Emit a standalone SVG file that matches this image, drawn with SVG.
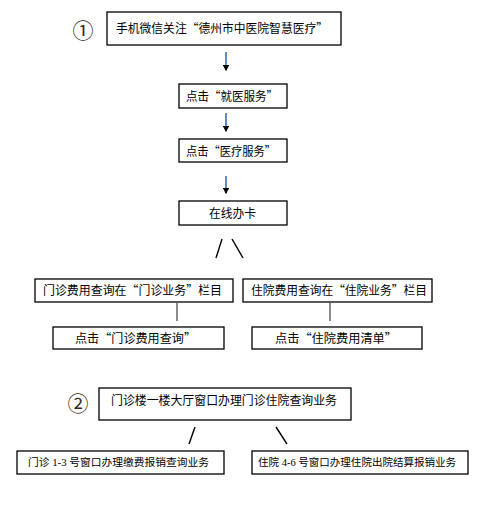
<svg xmlns="http://www.w3.org/2000/svg" width="489" height="516" viewBox="0 0 489 516">
  <defs>
    <style>
      .box { fill: #ffffff; stroke: #000000; stroke-width: 1.3; }
      .t { font-family: "Noto Sans CJK SC", "Liberation Sans", sans-serif; font-size: 12px; fill: #000000; }
      .ts { font-family: "Liberation Serif", "Noto Sans CJK SC", serif; font-size: 10.5px; fill: #000000; }
      .num { font-family: "Noto Sans CJK SC", "DejaVu Sans", sans-serif; font-size: 21px; fill: #3a2a1a; }
      .arrow { stroke: #3a6fb0; stroke-width: 1.6; fill: none; marker-end: url(#ah); }
      .slash { stroke: #000000; stroke-width: 1.4; fill: none; }
      .grey { stroke: #8c8c8c; stroke-width: 2; fill: none; }
    </style>
    <marker id="ah" viewBox="0 0 10 10" refX="8" refY="5" markerWidth="4" markerHeight="4" orient="auto" markerUnits="strokeWidth">
      <path d="M0,0 L10,5 L0,10 z" fill="#000000"/>
    </marker>
  </defs>

  <g id="labels">
    <text class="num" x="83" y="38" text-anchor="middle">①</text>
    <text class="num" x="78" y="411" text-anchor="middle">②</text>
  </g>

  <g id="connectors">
    <line class="arrow" x1="226" y1="52" x2="226" y2="70"/>
    <line class="arrow" x1="226" y1="113" x2="226" y2="131"/>
    <line class="arrow" x1="226" y1="176" x2="226" y2="193"/>
    <line class="slash" x1="216" y1="258" x2="222" y2="239"/>
    <line class="slash" x1="232" y1="239" x2="243" y2="258"/>
    <line class="grey" x1="177" y1="303" x2="177" y2="321"/>
    <line class="grey" x1="330" y1="303" x2="330" y2="321"/>
    <line class="slash" x1="189" y1="444" x2="195" y2="427"/>
    <line class="slash" x1="276" y1="427" x2="287" y2="444"/>
  </g>

  <g id="n1">
    <rect class="box" x="107" y="12" width="234" height="33"/>
    <text class="t" x="116" y="33" textLength="212" lengthAdjust="spacingAndGlyphs">手机微信关注“德州市中医院智慧医疗”</text>
  </g>
  <g id="n2">
    <rect class="box" x="179" y="84" width="108" height="24"/>
    <text class="t" x="186" y="101" textLength="92" lengthAdjust="spacingAndGlyphs">点击“就医服务”</text>
  </g>
  <g id="n3">
    <rect class="box" x="179" y="139" width="108" height="23"/>
    <text class="t" x="186" y="156" textLength="90" lengthAdjust="spacingAndGlyphs">点击“医疗服务”</text>
  </g>
  <g id="n4">
    <rect class="box" x="179" y="201" width="108" height="24"/>
    <text class="t" x="209" y="218" textLength="47" lengthAdjust="spacingAndGlyphs">在线办卡</text>
  </g>
  <g id="n5">
    <rect class="box" x="35" y="279" width="198" height="23"/>
    <text class="t" x="43" y="295" textLength="179" lengthAdjust="spacingAndGlyphs">门诊费用查询在“门诊业务”栏目</text>
  </g>
  <g id="n6">
    <rect class="box" x="53" y="327" width="171" height="22"/>
    <text class="t" x="75" y="343" textLength="121" lengthAdjust="spacingAndGlyphs">点击“门诊费用查询”</text>
  </g>
  <g id="n7">
    <rect class="box" x="243" y="279" width="189" height="23"/>
    <text class="t" x="251" y="295" textLength="176" lengthAdjust="spacingAndGlyphs">住院费用查询在“住院业务”栏目</text>
  </g>
  <g id="n8">
    <rect class="box" x="252" y="327" width="170" height="22"/>
    <text class="t" x="275" y="343" textLength="122" lengthAdjust="spacingAndGlyphs">点击“住院费用清单”</text>
  </g>
  <g id="n9">
    <rect class="box" x="99" y="388" width="252" height="32"/>
    <text class="t" x="111" y="405" textLength="226" lengthAdjust="spacingAndGlyphs">门诊楼一楼大厅窗口办理门诊住院查询业务</text>
  </g>
  <g id="n10">
    <rect class="box" x="17" y="451" width="207" height="23"/>
    <text class="ts" x="28" y="466" textLength="181" lengthAdjust="spacingAndGlyphs">门诊 1-3 号窗口办理缴费报销查询业务</text>
  </g>
  <g id="n11">
    <rect class="box" x="252" y="451" width="216" height="23"/>
    <text class="ts" x="258" y="466" textLength="198" lengthAdjust="spacingAndGlyphs">住院 4-6 号窗口办理住院出院结算报销业务</text>
  </g>
</svg>
